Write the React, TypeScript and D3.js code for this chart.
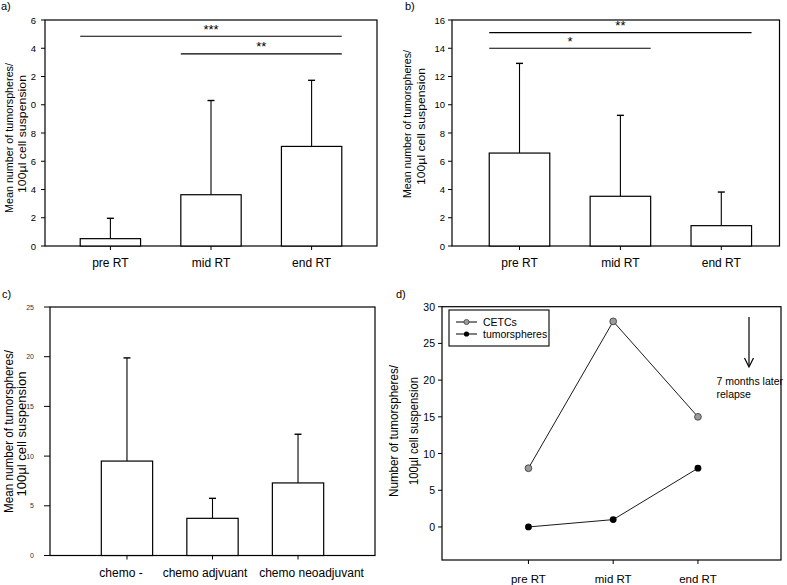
import * as d3 from "d3";

// ---- data ----
const rtCategories = ["pre RT", "mid RT", "end RT"];
const chemoCategories = ["chemo -", "chemo adjvuant", "chemo neoadjuvant"];

const aMeans = [0.52, 3.63, 7.05];
const aUpper = [1.96, 10.3, 11.73];
const aTicks = [0, 2, 4, 6, 8, 10, 12, 14, 16];
const aTickLabels = ["0", "2", "4", "6", "8", "0", "2", "4", "6"];
const aSig = [
    { from: 0, to: 2, y: 14.85, label: "***" },
    { from: 1, to: 2, y: 13.6, label: "**" },
];

const bMeans = [6.58, 3.52, 1.44];
const bUpper = [12.93, 9.25, 3.82];
const bTicks = [0, 2, 4, 6, 8, 10, 12, 14, 16];
const bTickLabels = ["0", "2", "4", "6", "8", "10", "12", "14", "16"];
const bSig = [
    { from: 0, to: 2, y: 15.1, label: "**" },
    { from: 0, to: 1, y: 14.0, label: "*" },
];

const cMeans = [9.5, 3.74, 7.3];
const cUpper = [19.88, 5.75, 12.2];
const cTicks = [0, 5, 10, 15, 20, 25];
const cTickLabels = ["0", "5", "10", "15", "20", "25"];

const dCETCs = [8, 28, 15];
const dTumorspheres = [0, 1, 8];
const dTicks = [0, 5, 10, 15, 20, 25, 30];
const dTickLabels = ["0", "5", "10", "15", "20", "25", "30"];

const FONT = "Arial, 'Liberation Sans', sans-serif";

type Box = { l: number; t: number; r: number; b: number };
type Sig = { from: number; to: number; y: number; label: string };

function YLabel({ lines, xs, ys, size, lengths }: { lines: string[]; xs: number[]; ys: number[]; size: number; lengths?: number[] }) {
    return (
        <g>
            {lines.map((s, i) => (
                <text
                    key={i}
                    transform={`translate(${xs[i]},${ys[i]}) rotate(-90)`}
                    textAnchor="middle"
                    dominantBaseline="central"
                    fontSize={size}
                    textLength={lengths ? lengths[i] : undefined}
                    lengthAdjust="spacingAndGlyphs"
                >
                    {s}
                </text>
            ))}
        </g>
    );
}

function YAxis({ box, y, ticks, labels, size, tickLen, gap, color }: any) {
    return (
        <g>
            {ticks.map((t: number, i: number) => (
                <g key={i}>
                    <line x1={box.l - tickLen} x2={box.l} y1={y(t)} y2={y(t)} stroke="#000" />
                    <text x={box.l - tickLen - gap} y={y(t)} textAnchor="end" dominantBaseline="central" fontSize={size} fill={color}>
                        {labels[i]}
                    </text>
                </g>
            ))}
        </g>
    );
}

function Frame({ box }: { box: Box }) {
    return <rect x={box.l} y={box.t} width={box.r - box.l} height={box.b - box.t} fill="none" stroke="#000" strokeWidth={1.2} />;
}

function BarPanel(props: {
    box: Box;
    categories: string[];
    means: number[];
    upper: number[];
    domain: [number, number];
    ticks: number[];
    tickLabels: string[];
    tickSize: number;
    tickLen: number;
    tickGap: number;
    tickColor: string;
    padding: number;
    align: number;
    sig: Sig[];
    xLabelY: number;
    xLabelSize: number;
    xLabelShift?: number[];
}) {
    const { box, categories, means, upper, domain, sig } = props;
    const x = d3.scalePoint<string>().domain(categories).range([box.l, box.r]).padding(props.padding).align(props.align);
    const y = d3.scaleLinear().domain(domain).range([box.b, box.t]);
    const bw = x.step() * 0.6;
    return (
        <g>
            <Frame box={box} />
            <YAxis box={box} y={y} ticks={props.ticks} labels={props.tickLabels} size={props.tickSize} tickLen={props.tickLen} gap={props.tickGap} color={props.tickColor} />
            {categories.map((c, i) => {
                const cx = x(c) ?? 0;
                const shift = props.xLabelShift ? props.xLabelShift[i] : 0;
                return (
                    <g key={c}>
                        <line x1={cx} x2={cx} y1={y(means[i])} y2={y(upper[i])} stroke="#000" strokeWidth={1.1} />
                        <line x1={cx - 3.5} x2={cx + 3.5} y1={y(upper[i])} y2={y(upper[i])} stroke="#000" strokeWidth={1.4} />
                        <rect x={cx - bw / 2} y={y(means[i])} width={bw} height={y(0) - y(means[i])} fill="#fff" stroke="#000" strokeWidth={1.2} />
                        <line x1={cx} x2={cx} y1={box.b} y2={box.b + 4} stroke="#000" />
                        <text x={cx + shift} y={props.xLabelY} textAnchor="middle" fontSize={props.xLabelSize}>
                            {c}
                        </text>
                    </g>
                );
            })}
            {sig.map((s, i) => {
                const x1 = (x(categories[s.from]) ?? 0) - bw / 2;
                const x2 = (x(categories[s.to]) ?? 0) + bw / 2;
                return (
                    <g key={i}>
                        <line x1={x1} x2={x2} y1={y(s.y)} y2={y(s.y)} stroke="#000" strokeWidth={1.2} />
                        <text x={(x1 + x2) / 2} y={y(s.y) - 2.5} textAnchor="middle" fontSize={13}>
                            {s.label}
                        </text>
                    </g>
                );
            })}
        </g>
    );
}

function LinePanel() {
    const box: Box = { l: 442, t: 306.7, r: 781, b: 560 };
    const x = d3.scalePoint<string>().domain(rtCategories).range([box.l, box.r]).padding(1).align(0.51);
    const y = d3.scaleLinear().domain([-4.5, 30]).range([box.b, box.t]);
    const line = d3
        .line<number>()
        .x((_, i) => x(rtCategories[i]) ?? 0)
        .y((v) => y(v));
    return (
        <g>
            <Frame box={box} />
            <YAxis box={box} y={y} ticks={dTicks} labels={dTickLabels} size={10.5} tickLen={4} gap={3} color="#000" />
            {rtCategories.map((c) => (
                <g key={c}>
                    <line x1={x(c)} x2={x(c)} y1={box.b} y2={box.b + 4} stroke="#000" />
                    <text x={x(c)} y={583} textAnchor="middle" fontSize={11.5}>
                        {c}
                    </text>
                </g>
            ))}
            <path d={line(dCETCs) ?? ""} fill="none" stroke="#000" strokeWidth={0.9} />
            <path d={line(dTumorspheres) ?? ""} fill="none" stroke="#000" strokeWidth={0.9} />
            {dCETCs.map((v, i) => (
                <circle key={"c" + i} cx={x(rtCategories[i])} cy={y(v)} r={3.4} fill="#9a9a9a" stroke="#333" strokeWidth={0.8} />
            ))}
            {dTumorspheres.map((v, i) => (
                <circle key={"t" + i} cx={x(rtCategories[i])} cy={y(v)} r={3.4} fill="#000" />
            ))}
            {/* legend */}
            <rect x={449} y={310} width={100} height={36} fill="#fff" stroke="#000" strokeWidth={1.1} />
            <line x1={456} x2={477} y1={322} y2={322} stroke="#000" />
            <circle cx={466.5} cy={322} r={2.6} fill="#9a9a9a" stroke="#333" strokeWidth={0.7} />
            <text x={483} y={322} dominantBaseline="central" fontSize={10.5}>
                CETCs
            </text>
            <line x1={456} x2={477} y1={334} y2={334} stroke="#000" />
            <circle cx={466.5} cy={334} r={2.6} fill="#000" />
            <text x={483} y={334} dominantBaseline="central" fontSize={10.5}>
                tumorspheres
            </text>
            {/* arrow */}
            <line x1={749} x2={749} y1={317} y2={366} stroke="#000" strokeWidth={1.2} />
            <polyline points="744.5,358 749,367 753.5,358" fill="none" stroke="#000" strokeWidth={1.2} />
            <text x={716.5} y={385} fontSize={10.5}>
                7 months later
            </text>
            <text x={716.5} y={397.5} fontSize={10.5}>
                relapse
            </text>
            <YLabel lines={["Number of tumorspheres/", "100µl cell suspension"]} xs={[393.5, 413.5]} ys={[431, 431]} size={12} lengths={[132, 108]} />
        </g>
    );
}

export default function App() {
    return (
        <svg width={787} height={585} style={{ position: "absolute", left: 0, top: 0, fontFamily: FONT }}>
            <rect width={787} height={585} fill="#fff" />
            <g fontFamily={FONT}>
                <text x={1} y={10} fontSize={11}>a)</text>
                <text x={405} y={10} fontSize={11}>b)</text>
                <text x={2} y={298} fontSize={11}>c)</text>
                <text x={396} y={298} fontSize={11}>d)</text>

                <BarPanel
                    box={{ l: 45, t: 20, r: 377, b: 246 }}
                    categories={rtCategories}
                    means={aMeans}
                    upper={aUpper}
                    domain={[0, 16]}
                    ticks={aTicks}
                    tickLabels={aTickLabels}
                    tickSize={9.5}
                    tickLen={4}
                    tickGap={5}
                    tickColor="#000"
                    padding={0.65}
                    align={0.5}
                    sig={aSig}
                    xLabelY={267}
                    xLabelSize={12}
                />
                <YLabel lines={["Mean number of tumorspheres/", "100µl cell suspension"]} xs={[8.5, 22]} ys={[138, 134]} size={11.5} lengths={[150, 118]} />

                <BarPanel
                    box={{ l: 452, t: 20, r: 779.5, b: 246 }}
                    categories={rtCategories}
                    means={bMeans}
                    upper={bUpper}
                    domain={[0, 16]}
                    ticks={bTicks}
                    tickLabels={bTickLabels}
                    tickSize={9.5}
                    tickLen={4}
                    tickGap={3}
                    tickColor="#000"
                    padding={0.623}
                    align={0.537}
                    sig={bSig}
                    xLabelY={267}
                    xLabelSize={12}
                />
                <YLabel lines={["Mean number of tumorspheres/", "100µl cell suspension"]} xs={[407, 420.5]} ys={[124, 126.5]} size={11.5} lengths={[148, 117]} />

                <BarPanel
                    box={{ l: 50, t: 307, r: 375, b: 555.5 }}
                    categories={chemoCategories}
                    means={cMeans}
                    upper={cUpper}
                    domain={[0, 25]}
                    ticks={cTicks}
                    tickLabels={cTickLabels}
                    tickSize={7}
                    tickLen={6}
                    tickGap={10}
                    tickColor="#333"
                    padding={0.9}
                    align={0.5}
                    sig={[]}
                    xLabelY={576.5}
                    xLabelSize={12}
                    xLabelShift={[-6, -7.5, 13.5]}
                />
                <YLabel lines={["Mean number of tumorspheres/", "100µl cell suspension"]} xs={[8.5, 22]} ys={[431.5, 434]} size={12.5} lengths={[163, 125]} />

                <LinePanel />
            </g>
        </svg>
    );
}
